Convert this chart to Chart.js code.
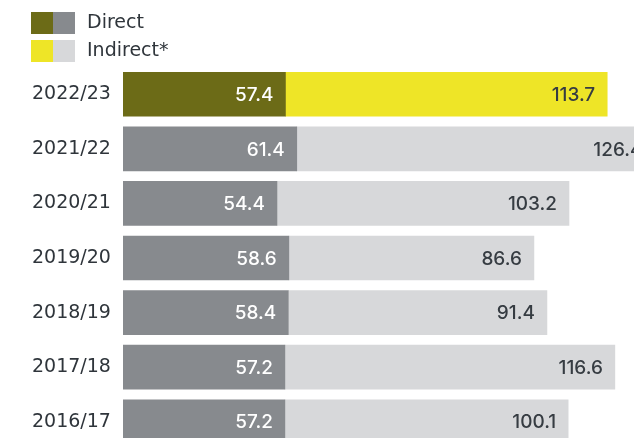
<!DOCTYPE html>
<html>
<head>
<meta charset="utf-8">
<script src="https://cdn.jsdelivr.net/npm/chart.js@4.4.0/dist/chart.umd.min.js"></script>
<style>
html, body { margin: 0; padding: 0; overflow: hidden; background: #fff; }
#insert { position: relative; width: 634px; height: 438px; }
</style>
</head>
<body>
<div id="insert"><canvas id="myChart"></canvas></div>
<script>
// emissions by year, newest on top
const years = ['2022/23', '2021/22', '2020/21', '2019/20', '2018/19', '2017/18', '2016/17']
const direct = [57.4, 61.4, 54.4, 58.6, 58.4, 57.2, 57.2]
const indirect = [113.7, 126.4, 103.2, 86.6, 91.4, 116.6, 100.1]
const seriesNames = ['Direct', 'Indirect*']

const TEXT = '#2f353b'
// current year gets the strong colour, older years are grey
function colors(hi, base) {
    return years.map((y, i) => i == 0 ? hi : base)
}

// the plot runs past the right and bottom edge of the canvas,
// so the last row and the longest bar get cut off
const overflowPlugin = {
    id: 'overflow',
    afterLayout(chart) {
        const area = chart.chartArea
        const x = chart.scales.x
        const y = chart.scales.y
        x.right = 689
        x.width = x.right - x.left
        x.configure()
        y.bottom = 449
        y.height = y.bottom - y.top
        y.configure()
        area.right = x.right
        area.width = x.width
        area.bottom = y.bottom
        area.height = y.height
    }
}

// two-colour squares + name for each series
const legendPlugin = {
    id: 'twoTone',
    afterDraw(chart) {
        const ctx = chart.ctx
        ctx.save()
        chart.data.datasets.forEach((ds, i) => {
            let top = 12 + i * 28
            ctx.fillStyle = ds.backgroundColor[0]
            ctx.fillRect(31, top, 22, 22)
            ctx.fillStyle = ds.backgroundColor[1]
            ctx.fillRect(53, top, 22, 22)
            ctx.fillStyle = TEXT
            ctx.font = '19px "DejaVu Sans"'
            ctx.textBaseline = 'middle'
            ctx.textAlign = 'left'
            ctx.fillText(ds.label, 87, top + 11)
        })
        ctx.restore()
    }
}

// value written inside the right end of every bar
const valuePlugin = {
    id: 'values',
    afterDatasetsDraw(chart) {
        const ctx = chart.ctx
        ctx.save()
        ctx.font = '500 19px Inter'
        ctx.textAlign = 'right'
        ctx.textBaseline = 'middle'
        chart.data.datasets.forEach((ds, i) => {
            chart.getDatasetMeta(i).data.forEach((bar, j) => {
                ctx.fillStyle = i == 0 ? '#ffffff' : '#363c42'
                ctx.fillText(ds.data[j].toFixed(1), bar.x - 12, bar.y + 1)
            })
        })
        ctx.restore()
    }
}

const ctx = document.getElementById('myChart').getContext('2d')
const myChart = new Chart(ctx, {
    type: 'bar',
    data: {
        labels: years,
        datasets: [{
            label: seriesNames[0],
            data: direct,
            backgroundColor: colors('#6c6b17', '#878a8e'),
            borderWidth: 0,
            barThickness: 44
        }, {
            label: seriesNames[1],
            data: indirect,
            backgroundColor: colors('#eee527', '#d7d8da'),
            borderWidth: 0,
            barThickness: 44
        }]
    },
    options: {
        indexAxis: 'y',
        animation: false,
        responsive: true,
        maintainAspectRatio: false,
        layout: { padding: { left: 32, top: 67, right: 0, bottom: 0 } },
        plugins: {
            legend: { display: false },
            tooltip: { enabled: false }
        },
        scales: {
            x: {
                stacked: true,
                display: false,
                min: 0,
                max: 200
            },
            y: {
                stacked: true,
                grid: { display: false },
                border: { display: false },
                ticks: {
                    crossAlign: 'far',
                    padding: 0,
                    color: TEXT,
                    font: { family: 'DejaVu Sans', size: 19 }
                },
                afterFit(scale) { scale.width = 91 }
            }
        }
    },
    plugins: [overflowPlugin, legendPlugin, valuePlugin]
})
</script>
</body>
</html>
